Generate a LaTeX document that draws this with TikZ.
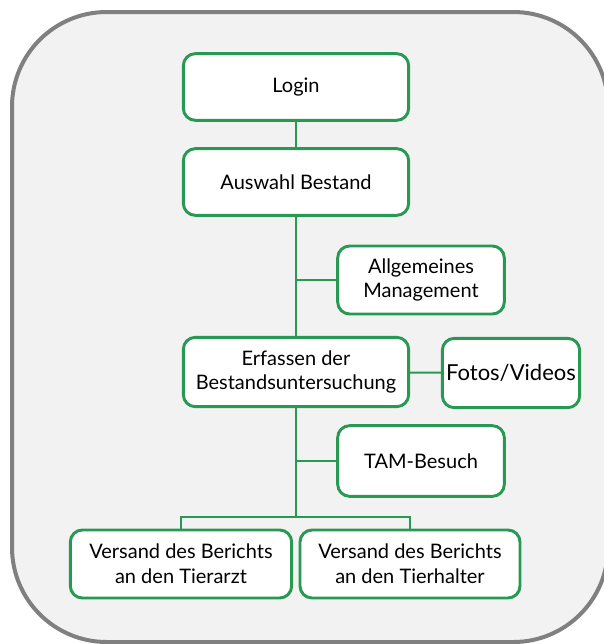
\documentclass[tikz,border=0pt]{standalone}
\usepackage{fontspec}
\setmainfont{Lato}
\usepackage{tikz}
\usetikzlibrary{positioning}

\definecolor{boxgreen}{RGB}{40,153,82}
\definecolor{framegray}{RGB}{128,128,128}
\definecolor{panelgray}{RGB}{242,242,242}

\tikzset{
	stepbox/.style={draw=boxgreen, line width=2.2pt, fill=white, rounded corners=9pt,
		align=center, font=\fontsize{15}{18.5}\selectfont, inner sep=2pt},
	wide/.style={stepbox, minimum width=169pt, minimum height=50pt},
	side/.style={stepbox, minimum width=125pt, minimum height=51pt},
	link/.style={draw=boxgreen, line width=1.5pt}
}

\begin{document}
\begin{tikzpicture}[x=0.75pt, y=-0.75pt]
		\useasboundingbox (0, 0) rectangle (604, 644);
		\begin{scope}
		\clip (0, 0) rectangle (604, 644);
		\draw[framegray, fill=panelgray, line width=3pt, rounded corners=71pt] (12, 12) rectangle (608, 642);
		\end{scope}
		%%
		\node[wide] (login) at (296, 87) {Login};
		\node[wide] (auswahl) at (296, 182) {Auswahl Bestand};
		\node[side] (allg) at (421, 280) {Allgemeines\\Management};
		\node[wide, minimum height=52pt] (erfassen) at (296, 372) {Erfassen der\\Bestandsuntersuchung};
		\node[stepbox, minimum width=103pt, minimum height=52pt, font=\fontsize{16.5}{20}\selectfont] (fotos) at (511, 373) {Fotos/Videos};
		\node[side, minimum height=53pt] (tam) at (421, 461) {TAM-Besuch};
		\node[stepbox, minimum width=166pt, minimum height=51pt] (arzt) at (181, 564) {Versand des Berichts\\an den Tierarzt};
		\node[stepbox, minimum width=165pt, minimum height=51pt] (halter) at (410, 564) {Versand des Berichts\\an den Tierhalter};
		\coordinate (split) at (296, 517);
		%%
		\draw[link] (login) -- (auswahl);
		\draw[link] (auswahl) -- (erfassen);
		\draw[link] (allg.west) -- (auswahl.south |- allg.west);
		\draw[link] (erfassen) -- (fotos);
		\draw[link] (erfassen.south) -- (split);
		\draw[link] (tam.west) -- (erfassen.south |- tam.west);
		\draw[link] (arzt.north) |- (split) -| (halter.north);
	\end{tikzpicture}
\end{document}
